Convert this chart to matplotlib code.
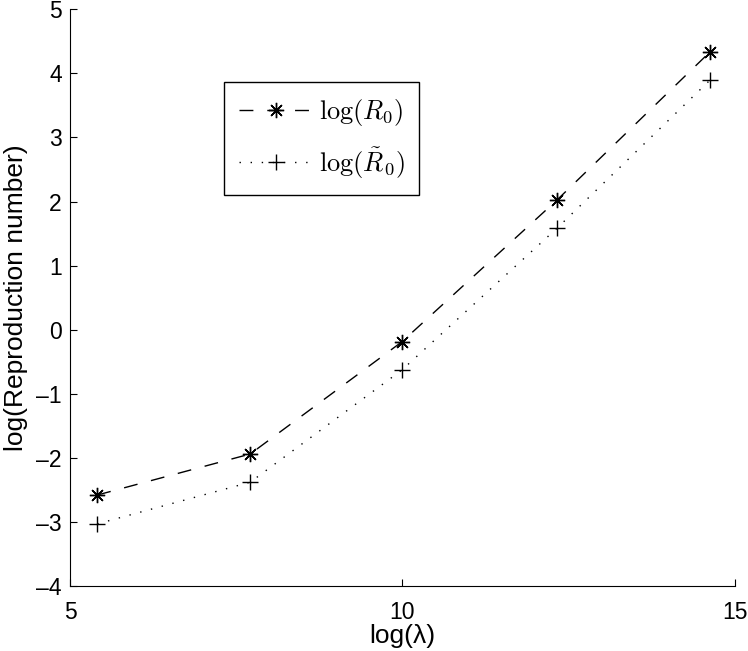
import matplotlib
matplotlib.use("Agg")
import matplotlib.pyplot as plt

plt.rcParams['font.family'] = ['Liberation Sans', 'DejaVu Sans']
plt.rcParams['mathtext.fontset'] = 'cm'
plt.rcParams['axes.unicode_minus'] = False

log_lambda = [5.41, 7.71, 9.99, 12.32, 14.62]
log_r0 = [-2.58, -1.94, -0.19, 2.02, 4.33]
log_r0_tilde = [-3.03, -2.38, -0.63, 1.58, 3.89]

fig = plt.figure(figsize=(7.48, 6.51), dpi=100)
ax = fig.add_axes([0.0936, 0.0998, 0.889, 0.886])

ax.plot(log_lambda, log_r0, color='k', lw=1, dashes=(10, 10),
        marker=(8, 2, 0), ms=11, mew=1, label=r'$\log(R_0)$')
ax.plot(log_lambda, log_r0_tilde, color='k', lw=1, dashes=(1, 7),
        marker='+', ms=12, mew=1, label=r'$\log(\tilde{R}_0)$')

ax.set_xlim(5, 15)
ax.set_ylim(-4, 5)
ax.set_xticks([5, 10, 15])
ax.set_yticks(range(-4, 6))
ax.set_yticklabels([str(v).replace('-', '\u2013') for v in range(-4, 6)])
ax.spines['top'].set_visible(False)
ax.spines['right'].set_visible(False)
ax.tick_params(direction='in', length=5, labelsize=16.5)
ax.tick_params(axis='x', pad=11)
ax.tick_params(axis='y', pad=6)
ax.set_xlabel('log(λ)', fontsize=19, labelpad=0)
ax.set_ylabel('log(Reproduction number)', fontsize=19, labelpad=6)

leg = ax.legend(loc='upper left', bbox_to_anchor=(0.232, 0.873), fontsize=19,
                handlelength=2.8, handletextpad=0.25, borderpad=0.55,
                labelspacing=0.65, borderaxespad=0, fancybox=False,
                edgecolor='k', framealpha=1)
leg.get_frame().set_linewidth(1)

fig.savefig('out.png', dpi=100)
